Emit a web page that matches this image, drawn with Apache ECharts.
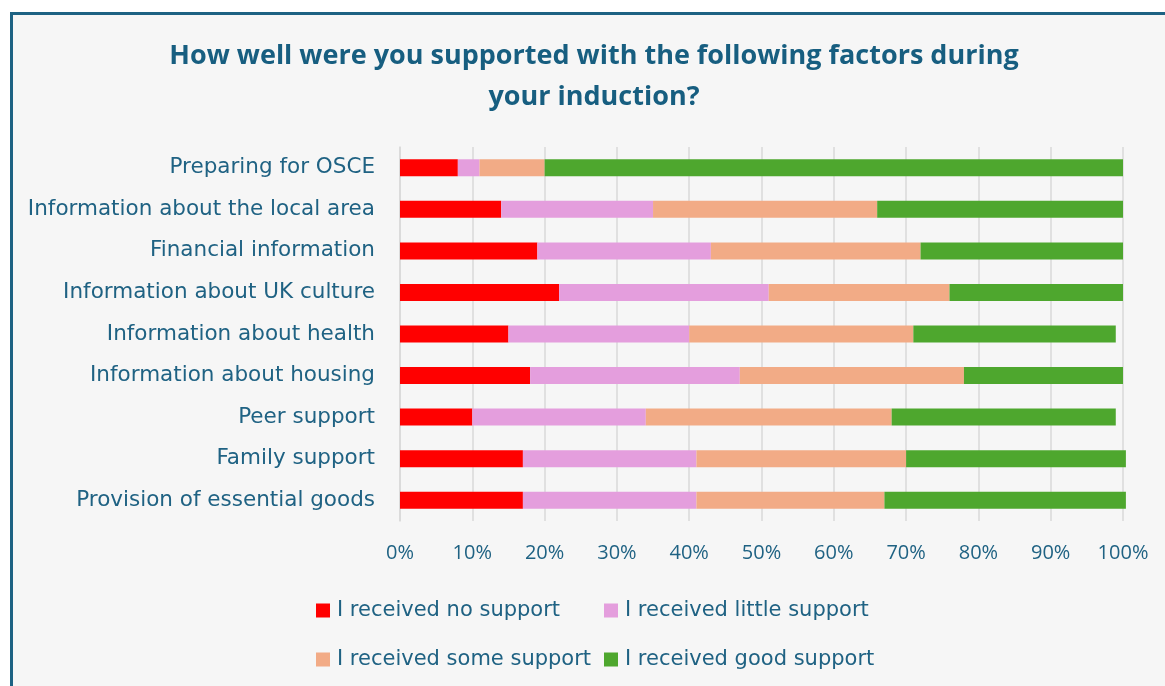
<!DOCTYPE html>
<html>
<head>
<meta charset="utf-8">
<script src="https://cdn.jsdelivr.net/npm/echarts@6/dist/echarts.min.js"></script>
<style>
  html, body { margin: 0; padding: 0; background: #ffffff; overflow: hidden; }
  #frame {
    position: absolute; left: 10px; top: 12px; width: 1200px; height: 720px;
    background: #f6f6f6; border-left: 3px solid #1d6283; border-top: 3px solid #1d6283;
  }
  #chart { position: absolute; left: 0; top: 0; width: 1165px; height: 686px; }
</style>
</head>
<body>
<div id="frame"></div>
<div id="chart"></div>
<script>
// Induction survey: share of respondents per support level (%)
const categories = [
  'Preparing for OSCE',
  'Information about the local area',
  'Financial information',
  'Information about UK culture',
  'Information about health',
  'Information about housing',
  'Peer support',
  'Family support',
  'Provision of essential goods'
];
const noSupport     = [8, 14, 19, 22, 15, 18, 10, 17, 17];
const littleSupport = [3, 21, 24, 29, 25, 29, 24, 24, 24];
const someSupport   = [9, 31, 29, 25, 31, 31, 34, 29, 26];
const goodSupport   = [80, 34, 28, 24, 28, 22, 31, 30.4, 33.4];
const seriesNames = [
  'I received no support',
  'I received little support',
  'I received some support',
  'I received good support'
];
const seriesColors = ['#ff0000', '#e49edd', '#f2ab86', '#4ea72e'];
const xTicks = [0, 10, 20, 30, 40, 50, 60, 70, 80, 90, 100];
const titleLines = [
  'How well were you supported with the following factors during',
  'your induction?'
];

const FONT = '"DejaVu Sans", sans-serif';
const TITLE_FONT = '"Open Sans", sans-serif';
const TEXT = '#1f6283';
const GRIDLINE = '#d9d9d9';

const chart = echarts.init(document.getElementById('chart'), null, { renderer: 'canvas' });
const seriesData = [noSupport, littleSupport, someSupport, goodSupport];

const legendText = { fontFamily: FONT, fontSize: 21, color: TEXT, lineHeight: 20, padding: [0, 0, 0, 2] };

chart.setOption({
  backgroundColor: 'transparent',
  animation: false,
  graphic: [{
    type: 'text',
    x: 594, y: 77,
    style: {
      text: titleLines.join('\n'),
      align: 'center', verticalAlign: 'middle',
      fontFamily: TITLE_FONT, fontWeight: 'bold', fontSize: 27,
      lineHeight: 41, fill: '#175e80'
    }
  }],
  legend: [
    {
      data: [seriesNames[0], seriesNames[2]],
      orient: 'vertical', left: 311, top: 595,
      itemWidth: 14, itemHeight: 14, itemGap: 28, icon: 'rect',
      textStyle: legendText
    },
    {
      data: [seriesNames[1], seriesNames[3]],
      orient: 'vertical', left: 599, top: 595,
      itemWidth: 14, itemHeight: 14, itemGap: 28, icon: 'rect',
      textStyle: legendText
    }
  ],
  grid: { left: 400, right: 42, top: 147, bottom: 165, outerBoundsMode: 'none' },
  xAxis: {
    type: 'value', min: 0, max: 100, interval: 10,
    axisLine: { show: false }, axisTick: { show: false },
    splitLine: { show: true, lineStyle: { color: GRIDLINE, width: 1.5 } },
    axisLabel: {
      margin: 22, fontFamily: '"Open Sans", sans-serif', fontSize: 20, color: TEXT,
      formatter: v => (xTicks.includes(v) ? v + '%' : '')
    }
  },
  yAxis: {
    type: 'category', data: categories, inverse: true,
    axisLine: { show: true, lineStyle: { color: GRIDLINE, width: 1.5 } },
    axisTick: { show: false },
    axisLabel: { margin: 25, fontFamily: FONT, fontSize: 21.5, color: TEXT }
  },
  series: seriesNames.map((name, i) => ({
    name, type: 'bar', stack: 'total', barWidth: 17, clip: false,
    itemStyle: { color: seriesColors[i] },
    data: seriesData[i]
  }))
});
</script>
</body>
</html>
